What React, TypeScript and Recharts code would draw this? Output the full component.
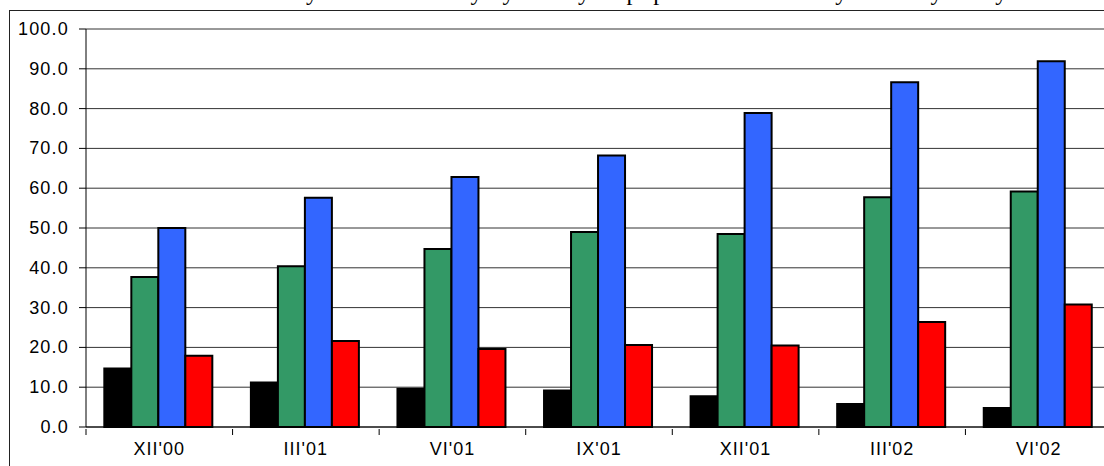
import { BarChart, Bar, XAxis, YAxis, CartesianGrid } from 'recharts'

const okresy = ["XII'00", "III'01", "VI'01", "IX'01", "XII'01", "III'02", "VI'02"]
const seria1 = [14.7, 11.2, 9.6, 9.2, 7.7, 5.8, 4.8]
const seria2 = [37.7, 40.4, 44.7, 49.0, 48.5, 57.7, 59.2]
const seria3 = [50.0, 57.6, 62.8, 68.2, 78.9, 86.6, 91.9]
const seria4 = [17.9, 21.6, 19.6, 20.6, 20.5, 26.4, 30.8]
const podzialka = [0, 10, 20, 30, 40, 50, 60, 70, 80, 90, 100]

const tytul = 'Procentowa struktura aktywów funduszy rynkowych papierów skarbowych w wybranych terminach'

const KOLORY = ['#000000', '#339966', '#3366FF', '#FF0000']
const klucze = ['s1', 's2', 's3', 's4']

const dane = okresy.map((okres, i) => ({
  okres,
  s1: seria1[i],
  s2: seria2[i],
  s3: seria3[i],
  s4: seria4[i],
}))

const SZER = 1112
const WYS = 466
const OS_Y = 86
const szerPasma = (SZER - OS_Y) / okresy.length
const FONT = "'Liberation Sans', Arial, sans-serif"

// etykieta okresu + kreska podziałki na granicy pasma
function TickOkresu(props: any) {
  const { x, y, payload } = props
  const lewa = x - szerPasma / 2
  return (
    <g>
      <line x1={lewa} y1={y - 6} x2={lewa} y2={y} stroke="#000" strokeWidth={1} />
      <text
        x={x}
        y={y + 20}
        textAnchor="middle"
        fontSize={18}
        letterSpacing={1}
        fontFamily={FONT}
        fill="#000"
      >
        {payload.value}
      </text>
    </g>
  )
}

function TickWartosci(props: any) {
  const { x, y, payload } = props
  return (
    <text x={x + 1} y={y + 6} textAnchor="end" fontSize={18} letterSpacing={1.2} fontFamily={FONT} fill="#000">
      {Number(payload.value).toFixed(1)}
    </text>
  )
}

export default function App() {
  return (
    <div style={{ position: 'fixed', left: 0, top: 0, width: 1104, height: 466, overflow: 'hidden', background: '#fff' }}>
      <div
        style={{
          position: 'absolute',
          left: 18,
          top: -20,
          fontFamily: "'Liberation Serif', 'Times New Roman', serif",
          fontSize: 24,
          lineHeight: '24px',
          letterSpacing: 2,
          whiteSpace: 'nowrap',
          color: '#000',
        }}
      >
        {tytul}
      </div>
      <div
        style={{
          position: 'absolute',
          left: 9,
          top: 10,
          width: 1200,
          height: 600,
          border: '1.5px solid #222',
          boxSizing: 'border-box',
        }}
      />
      <div style={{ position: 'absolute', left: 0, top: 0 }}>
        <BarChart
          width={SZER}
          height={WYS}
          data={dane}
          margin={{ top: 29, right: 0, bottom: 0, left: 0 }}
          barCategoryGap="12.5%"
          barGap={0}
        >
          <CartesianGrid vertical={false} stroke="#333" strokeWidth={1} />
          <XAxis
            dataKey="okres"
            height={39}
            tickLine={false}
            axisLine={{ stroke: '#000', strokeWidth: 1 }}
            tick={<TickOkresu />}
            interval={0}
          />
          <YAxis
            width={OS_Y}
            domain={[0, 100]}
            ticks={podzialka}
            tickSize={7}
            tickMargin={11}
            tickLine={{ stroke: '#000' }}
            axisLine={{ stroke: '#000', strokeWidth: 1 }}
            tick={<TickWartosci />}
          />
          {klucze.map((k, i) => (
            <Bar
              key={k}
              dataKey={k}
              fill={KOLORY[i]}
              stroke="#000"
              strokeWidth={2}
              isAnimationActive={false}
            />
          ))}
        </BarChart>
      </div>
    </div>
  )
}
